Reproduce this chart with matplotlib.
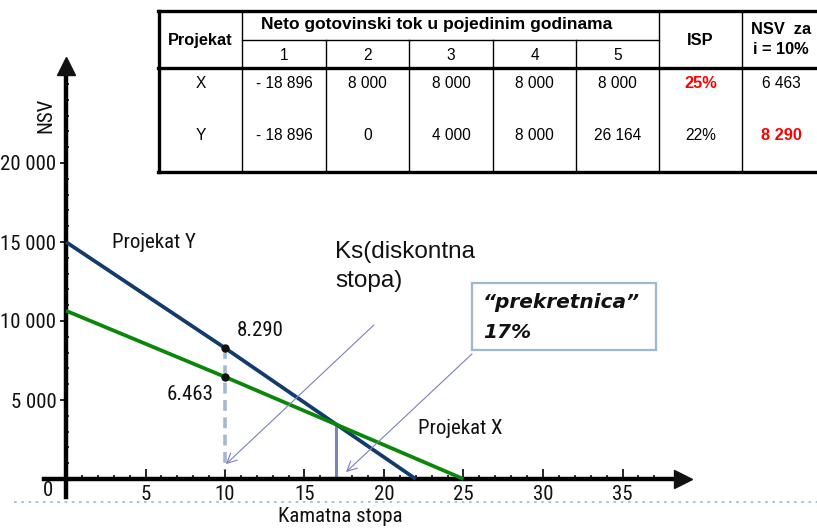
import numpy as np
import matplotlib
matplotlib.use("Agg")
import matplotlib.pyplot as plt
from matplotlib.transforms import Affine2D
from matplotlib.lines import Line2D
from matplotlib.patches import Rectangle

# ---------------- data ----------------
stopa_Y = [0, 10, 22]
nsv_Y = [15000, 8290, 0]
stopa_X = [0, 10, 25]
nsv_X = [10650, 6463, 0]
diskontna = 10
prekretnica = 17

x_ticks = [5, 10, 15, 20, 25, 30, 35]
y_ticks = [5000, 10000, 15000, 20000]
y_tick_labels = ["5 000", "10 000", "15 000", "20 000"]

tab_projekti = ["X", "Y"]
tab_godine = ["1", "2", "3", "4", "5"]
tab_tok = [["- 18 896", "8 000", "8 000", "8 000", "8 000"],
           ["- 18 896", "0", "4 000", "8 000", "26 164"]]
tab_isp = ["25%", "22%"]
tab_nsv = ["6 463", "8 290"]
tab_isp_red = [True, False]
tab_nsv_red = [False, True]

# ---------------- figure ----------------
W, H = 817, 529
fig = plt.figure(figsize=(W / 100, H / 100), dpi=100)
ax = fig.add_axes([0, 0, 1, 1])
ax.set_facecolor("none")

X0, SX = 66, 15.9          # pixel of x=0, pixels per unit
Y0, SY = 479, 79 / 5000    # pixel of y=0, pixels per NSV unit
ax.set_xlim(-X0 / SX, (W - X0) / SX)
ax.set_ylim(-(H - Y0) / SY, Y0 / SY)

def dx(px):
    return (px - X0) / SX

def dy(py):
    return (Y0 - py) / SY

pix = Affine2D().scale(1 / W, -1 / H).translate(0, 1) + fig.transFigure

narrow = ["Roboto Condensed", "DejaVu Sans"]
NK = dict(family=narrow, stretch="condensed")
lab_fs = 15

# axes spines as arrows
for s in ["top", "right"]:
    ax.spines[s].set_visible(False)
ax.spines["left"].set_position(("data", 0))
ax.spines["bottom"].set_position(("data", 0))
ax.spines["left"].set_linewidth(3.2)
ax.spines["bottom"].set_linewidth(3.2)
ax.spines["left"].set_bounds(dy(497), dy(74))
ax.spines["bottom"].set_bounds(dx(44), dx(678))
ax.plot([dx(683)], [0], marker=">", ms=13, color="#111111", clip_on=False, zorder=5)
ax.plot([0], [dy(66)], marker="^", ms=13, color="#111111", clip_on=False, zorder=5)

ax.set_xticks(x_ticks)
ax.set_xticks(np.arange(1, 38, 1), minor=True)
ax.set_yticks(y_ticks)
ax.set_yticks(np.arange(1000, 26000, 1000), minor=True)
ax.set_xticklabels([str(v) for v in x_ticks], fontsize=lab_fs, **NK)
ax.set_yticklabels(y_tick_labels, fontsize=lab_fs, **NK)
ax.tick_params(axis="x", which="major", direction="in", length=7, width=1.3, pad=4, colors="#111111")
ax.tick_params(axis="x", which="minor", direction="in", length=3, width=1.2, colors="#111111")
ax.tick_params(axis="y", which="major", direction="out", length=4, width=1.3, pad=3, colors="#111111")
ax.tick_params(axis="y", which="minor", direction="in", length=2, width=1.2, colors="#111111")
ax.text(dx(48), dy(491), "0", fontsize=lab_fs, ha="center", va="center", color="#111111", **NK)

ax.text(dx(46), dy(115), "NSV", fontsize=lab_fs, rotation=90,
        ha="center", va="center", color="#111111", **NK)
ax.text(dx(340), dy(517), "Kamatna stopa", fontsize=lab_fs,
        ha="center", va="center", color="#111111", **NK)

# dotted separator line at bottom
fig.add_artist(Line2D([14, W], [502, 502], transform=pix, color="#9fc0e0",
                      lw=1.3, ls=(0, (1.5, 2.5))))

# ---------------- lines ----------------
ax.plot(stopa_Y, nsv_Y, color="#123a6b", lw=2.7, solid_capstyle="butt", zorder=3)
ax.plot(stopa_X, nsv_X, color="#0a870a", lw=2.7, solid_capstyle="butt", zorder=3)

y_at_d_Y = np.interp(diskontna, stopa_Y, nsv_Y)
y_at_d_X = np.interp(diskontna, stopa_X, nsv_X)
ax.plot([diskontna, diskontna], [y_at_d_Y, dy(470)], color="#a3b9cf", lw=2.6,
        ls=(0, (3, 1.8)), zorder=2)
ax.plot([diskontna, diskontna], [y_at_d_Y, y_at_d_X], "o", ms=5, color="#111111", zorder=4)

y_cross = np.interp(prekretnica, stopa_Y, nsv_Y)
ax.plot([prekretnica, prekretnica], [y_cross, dy(477)], color="#7a86b5", lw=2.2, zorder=2)

# annotations
ax.text(dx(237), dy(330), "8.290", fontsize=lab_fs, ha="left", va="center", color="#111111", **NK)
ax.text(dx(214), dy(394), "6.463", fontsize=lab_fs, ha="right", va="center", color="#111111", **NK)
ax.text(dx(112), dy(243), "Projekat Y", fontsize=lab_fs, ha="left", va="center", color="#111111", **NK)
ax.text(dx(418), dy(428), "Projekat X", fontsize=lab_fs, ha="left", va="center", color="#111111", **NK)

ax.text(dx(335), dy(241), "Ks(diskontna\nstopa)", family="Liberation Sans", fontsize=17.5,
        ha="left", va="top", linespacing=1.4, color="#111111")

arrow_kw = dict(arrowstyle="->,head_length=0.7,head_width=0.35", color="#7a80c0", lw=0.8)
ax.annotate("", xy=(dx(224), dy(466)), xytext=(dx(376), dy(323)), arrowprops=arrow_kw)
ax.annotate("", xy=(dx(344), dy(474)), xytext=(dx(474), dy(352)), arrowprops=arrow_kw)

fig.add_artist(Rectangle((472, 283), 184, 67, transform=pix, fill=True, fc="white",
                         ec="#9db8d0", lw=1.6))
fig.text(483 / W, 1 - 303 / H, "\u201cprekretnica\u201d", family="DejaVu Sans", weight="bold",
         style="italic", fontsize=14.5, ha="left", va="center", color="#111111")
fig.text(483 / W, 1 - 333 / H, "17%", family="DejaVu Sans", weight="bold",
         style="italic", fontsize=14.5, ha="left", va="center", color="#111111")

# ---------------- table ----------------
cols = [159, 242, 326, 409, 493, 576, 659, 742, 830]
rows = [11, 40, 68, 172]
thick, thin = 2.4, 1.0
fig.add_artist(Rectangle((cols[0], rows[0]), cols[-1] - cols[0], rows[-1] - rows[0],
                         transform=pix, fc="white", ec="none"))

def hline(y, x1, x2, lw):
    fig.add_artist(Line2D([x1, x2], [y, y], transform=pix, color="black", lw=lw))

def vline(x, y1, y2, lw):
    fig.add_artist(Line2D([x, x], [y1, y2], transform=pix, color="black", lw=lw))

hline(rows[0], cols[0] - 1, cols[-1], thick)
hline(rows[2], cols[0] - 1, cols[-1], thick)
hline(rows[3], cols[0] - 1, cols[-1], thick)
hline(rows[1], cols[1], cols[6], thin)
vline(cols[0], rows[0], rows[3], thick)
for c in [cols[1], cols[6], cols[7]]:
    vline(c, rows[0], rows[3], thin)
for c in cols[2:6]:
    vline(c, rows[1], rows[3], thin)

tfam = "Liberation Sans"

def ttext(x, y, s, bold=False, color="black", fs=None):
    if fs is None:
        fs = 11.8 if bold else 11.2
    fig.text(x / W, 1 - y / H, s, family=tfam, fontsize=fs,
             ha="center", va="center",
             weight="bold" if bold else "normal", color=color)

ttext((cols[0] + cols[1]) / 2, 40, "Projekat", bold=True)
ttext(437, 24, "Neto gotovinski tok u pojedinim godinama", bold=True, fs=12.5)
for i, g in enumerate(tab_godine):
    ttext((cols[1 + i] + cols[2 + i]) / 2, 55, g)
ttext((cols[6] + cols[7]) / 2, 40, "ISP", bold=True)
ttext(781, 30, "NSV  za", bold=True)
ttext(781, 49, "i = 10%", bold=True)

row_y = [84, 136]
for r, p in enumerate(tab_projekti):
    y = row_y[r]
    ttext((cols[0] + cols[1]) / 2, y, p)
    for i, v in enumerate(tab_tok[r]):
        ttext((cols[1 + i] + cols[2 + i]) / 2, y, v)
    ttext((cols[6] + cols[7]) / 2, y, tab_isp[r], bold=tab_isp_red[r],
          color="#ff0000" if tab_isp_red[r] else "black")
    ttext(781, y, tab_nsv[r], bold=tab_nsv_red[r],
          color="#ff0000" if tab_nsv_red[r] else "black")

fig.savefig("out.png", dpi=100)
